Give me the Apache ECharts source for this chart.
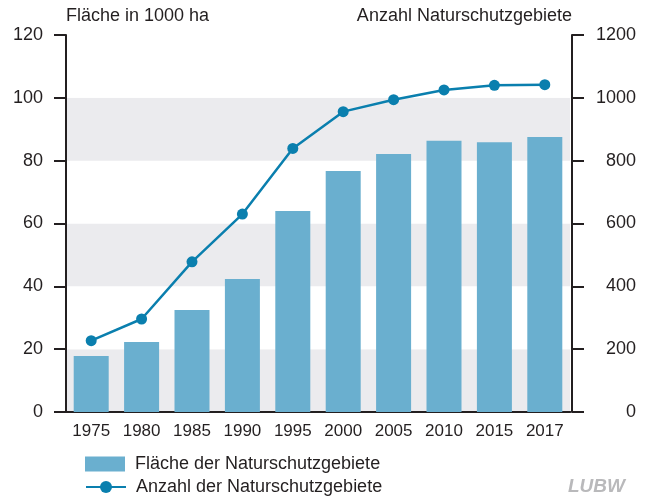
<!DOCTYPE html>
<html>
<head>
<meta charset="utf-8">
<script src="https://cdn.jsdelivr.net/npm/echarts@6/dist/echarts.min.js"></script>
<style>
  html, body { margin: 0; padding: 0; background: #fff; }
  #chart { width: 646px; height: 499px; }
</style>
</head>
<body>
<div id="chart"></div>
<script>
// Naturschutzgebiete in Baden-Württemberg
const years = ['1975', '1980', '1985', '1990', '1995', '2000', '2005', '2010', '2015', '2017'];
// Fläche in 1000 ha
const flaeche = [17.8, 22.3, 32.5, 42.3, 64.0, 76.7, 82.1, 86.3, 85.9, 87.5];
// Anzahl der Naturschutzgebiete
const anzahl = [227, 296, 478, 630, 839, 956, 994, 1025, 1040, 1042];

const leftTicks = [0, 20, 40, 60, 80, 100, 120];
const rightTicks = [0, 200, 400, 600, 800, 1000, 1200];

const FONT = '"Liberation Sans Narrow", "Liberation Sans", Arial, sans-serif';
const INK = '#231f20';
const BAR = '#6aafcf';
const LINE = '#0a7fae';

const NAME_BAR = 'Fläche der Naturschutzgebiete';
const NAME_LINE = 'Anzahl der Naturschutzgebiete';

const legendBase = {
  orient: 'vertical',
  left: 85,
  padding: 0,
  itemWidth: 40,
  itemHeight: 15,
  textStyle: { fontFamily: FONT, fontSize: 18, color: INK, padding: [0, 0, 0, 5] }
};

const chart = echarts.init(document.getElementById('chart'), null, { renderer: 'canvas' });

chart.setOption({
  animation: false,
  backgroundColor: '#ffffff',
  textStyle: { fontFamily: FONT, color: INK },
  grid: { left: 66, right: 76, top: 35, bottom: 87 },
  legend: [
    Object.assign({}, legendBase, { top: 455, data: [{ name: NAME_BAR, icon: 'rect' }] }),
    Object.assign({}, legendBase, { top: 478, data: [{ name: NAME_LINE }] })
  ],
  xAxis: [
    {
      type: 'category',
      data: years,
      axisLine: { show: true, lineStyle: { color: INK, width: 2 } },
      axisTick: { show: false },
      axisLabel: { fontFamily: FONT, fontSize: 17, color: INK, margin: 11 }
    },
    {
      // oberer Rahmen des Diagramms
      type: 'category',
      data: years,
      position: 'top',
      axisLine: { show: true, lineStyle: { color: INK, width: 2 } },
      axisTick: { show: false },
      axisLabel: { show: false }
    }
  ],
  yAxis: [
    {
      type: 'value',
      min: leftTicks[0],
      max: leftTicks[leftTicks.length - 1],
      interval: 20,
      name: 'Fläche in 1000 ha',
      nameLocation: 'end',
      nameGap: 10,
      nameTextStyle: { fontFamily: FONT, fontSize: 18, color: INK, align: 'left' },
      axisLine: { show: true, lineStyle: { color: INK, width: 2 } },
      axisTick: { show: true, inside: false, length: 12, lineStyle: { color: INK, width: 2 } },
      axisLabel: { fontFamily: FONT, fontSize: 18, color: INK, margin: 23 },
      splitLine: { show: false },
      splitArea: { show: true, areaStyle: { color: ['#ebebee', '#ffffff'] } }
    },
    {
      type: 'value',
      position: 'right',
      offset: 2,
      min: rightTicks[0],
      max: rightTicks[rightTicks.length - 1],
      interval: 200,
      name: 'Anzahl Naturschutzgebiete',
      nameLocation: 'end',
      nameGap: 10,
      nameTextStyle: { fontFamily: FONT, fontSize: 18, color: INK, align: 'right' },
      axisLine: { show: true, lineStyle: { color: INK, width: 2 } },
      axisTick: { show: true, inside: false, length: 12, lineStyle: { color: INK, width: 2 } },
      axisLabel: {
        fontFamily: FONT, fontSize: 18, color: INK, margin: 64, align: 'right',
        formatter: (v) => String(v)
      },
      splitLine: { show: false },
      splitArea: { show: false }
    }
  ],
  series: [
    {
      name: NAME_BAR,
      type: 'bar',
      xAxisIndex: 0,
      yAxisIndex: 0,
      data: flaeche,
      barWidth: 35,
      itemStyle: { color: BAR },
      z: 2
    },
    {
      name: NAME_LINE,
      type: 'line',
      xAxisIndex: 0,
      yAxisIndex: 1,
      data: anzahl,
      symbol: 'circle',
      symbolSize: 11,
      lineStyle: { color: LINE, width: 2.5 },
      itemStyle: { color: LINE },
      z: 3
    }
  ],
  graphic: [
    {
      type: 'text',
      right: 21,
      bottom: 3,
      style: {
        text: 'LUBW',
        font: 'italic bold 19px ' + FONT,
        fill: '#b9b9bb'
      }
    }
  ]
});
</script>
</body>
</html>
